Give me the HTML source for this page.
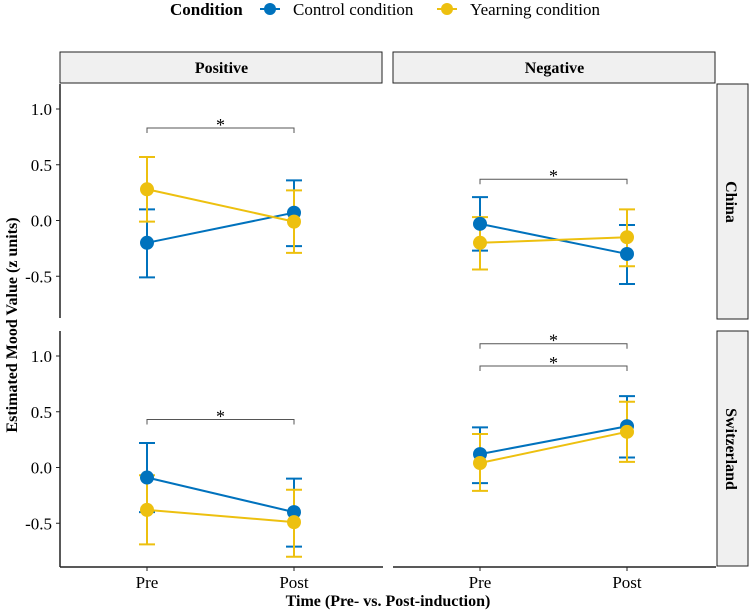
<!DOCTYPE html>
<html><head><meta charset="utf-8"><style>
body{margin:0;background:#fff;}
svg{display:block;font-family:"Liberation Serif",serif;}
</style></head><body>
<svg id="chart" width="750" height="613" viewBox="0 0 750 613" xmlns="http://www.w3.org/2000/svg">
<g>
<text x="170" y="15" font-size="17" font-weight="bold">Condition</text>
<g><line x1="260" y1="9" x2="280" y2="9" stroke="#0072BD" stroke-width="2"/><circle cx="270" cy="9" r="6" fill="#0072BD"/><text x="293" y="15" font-size="17">Control condition</text></g>
<g><line x1="437" y1="9" x2="457" y2="9" stroke="#EDC00F" stroke-width="2"/><circle cx="447" cy="9" r="6" fill="#EDC00F"/><text x="470" y="15" font-size="17">Yearning condition</text></g>
</g>
<text transform="translate(17,325) rotate(-90)" text-anchor="middle" font-size="16" font-weight="bold">Estimated Mood Value (z units)</text>
<text x="388" y="606" text-anchor="middle" font-size="16" font-weight="bold">Time (Pre- vs. Post-induction)</text>
<g id="plots"></g>
</svg>
<script>
const conditions = ["Control condition", "Yearning condition"];
const times = ["Pre", "Post"];
const facetCols = ["Positive", "Negative"];
const facetRows = ["China", "Switzerland"];
const yTicks = [1.0, 0.5, 0.0, -0.5];
const yTickLabels = ["1.0", "0.5", "0.0", "-0.5"];
// [row][col][condition][time]
const means = [
  [[[-0.20, 0.07], [0.28, -0.01]], [[-0.03, -0.30], [-0.20, -0.15]]],
  [[[-0.09, -0.40], [-0.38, -0.49]], [[0.12, 0.37], [0.04, 0.32]]]
];
const lowers = [
  [[[-0.51, -0.23], [-0.01, -0.29]], [[-0.27, -0.57], [-0.44, -0.41]]],
  [[[-0.40, -0.71], [-0.69, -0.80]], [[-0.14, 0.09], [-0.21, 0.05]]]
];
const uppers = [
  [[[0.10, 0.36], [0.57, 0.27]], [[0.21, -0.04], [0.03, 0.10]]],
  [[[0.22, -0.10], [-0.07, -0.20]], [[0.36, 0.64], [0.30, 0.59]]]
];
const brackets = [[[0.83], [0.37]], [[0.43], [1.11, 0.91]]];

const colors = ["#0072BD", "#EDC00F"];
const NS = "http://www.w3.org/2000/svg";
const g = document.getElementById("plots");
function mk(tag, attrs, parent) {
  const e = document.createElementNS(NS, tag);
  for (const k in attrs) e.setAttribute(k, attrs[k]);
  (parent || g).appendChild(e);
  return e;
}
const panelX = [60, 393], panelW = 323;
const panelY = [84, 331], panelH = 236;
const zeroOff = 136.5, pxPerUnit = 111.5;
function xScale(c, t) { return panelX[c] + (t === 0 ? 87 : 234); }
function yScale(r, v) { return panelY[r] + zeroOff - v * pxPerUnit; }

facetCols.forEach((name, c) => {
  const s = mk("rect", {x: panelX[c], y: 52, width: panelW - 1, height: 31, fill: "#f0f0f0", stroke: "#222", "stroke-width": 1});
  
  
  const t = mk("text", {x: panelX[c] + panelW / 2, y: 73, "text-anchor": "middle", "font-size": 16, "font-weight": "bold"});
  t.textContent = name;
  
  
});
facetRows.forEach((name, r) => {
  const s = mk("rect", {x: 717, y: panelY[r], width: 31, height: panelH - 1, fill: "#f0f0f0", stroke: "#222", "stroke-width": 1});
  
  
  const cy = panelY[r] + panelH / 2;
  const t = mk("text", {x: 0, y: 0, transform: `translate(726,${cy}) rotate(90)`, "text-anchor": "middle", "font-size": 16, "font-weight": "bold"});
  t.textContent = name;
  
  
});
// axes
facetRows.forEach((rn, r) => {
  const a = mk("line", {x1: 60, y1: panelY[r], x2: 60, y2: r === 1 ? 567 : panelY[r] + panelH - 2, stroke: "#222", "stroke-width": 1.5});
  
  
  yTicks.forEach((v, i) => {
    const y = yScale(r, v);
    mk("line", {x1: 56, y1: y, x2: 60, y2: y, stroke: "#222", "stroke-width": 1});
    const t = mk("text", {x: 52, y: y + 6, "text-anchor": "end", "font-size": 17});
    t.textContent = yTickLabels[i];
    
    
  });
});
facetCols.forEach((cn, c) => {
  const a = mk("line", {x1: panelX[c], y1: 567, x2: panelX[c] + panelW, y2: 567, stroke: "#222", "stroke-width": 1.5});
  
  
  times.forEach((tn, t) => {
    const x = xScale(c, t);
    mk("line", {x1: x, y1: 567, x2: x, y2: 571, stroke: "#222", "stroke-width": 1});
    const tx = mk("text", {x: x, y: 588, "text-anchor": "middle", "font-size": 17});
    tx.textContent = tn;
    
    
  });
});
// data
facetRows.forEach((rn, r) => {
  facetCols.forEach((cn, c) => {
    brackets[r][c].forEach(v => {
      const y = yScale(r, v), x1 = xScale(c, 0), x2 = xScale(c, 1);
      const b = mk("path", {d: `M${x1},${y + 5}V${y}H${x2}V${y + 5}`, fill: "none", stroke: "#555", "stroke-width": 1});
      
      
      const s = mk("text", {x: (x1 + x2) / 2, y: y + 3, "text-anchor": "middle", "font-size": 18});
      s.textContent = "*";
      
      
    });
    conditions.forEach((cond, k) => {
      const col = colors[k];
      times.forEach((tn, t) => {
        const x = xScale(c, t), yl = yScale(r, lowers[r][c][k][t]), yu = yScale(r, uppers[r][c][k][t]);
        const eb = mk("path", {d: `M${x - 8},${yu}H${x + 8}M${x},${yu}V${yl}M${x - 8},${yl}H${x + 8}`, stroke: col, "stroke-width": 2, fill: "none"});
        
        
      });
      const ln = mk("line", {x1: xScale(c, 0), y1: yScale(r, means[r][c][k][0]), x2: xScale(c, 1), y2: yScale(r, means[r][c][k][1]), stroke: col, "stroke-width": 2});
      
      
    });
    conditions.forEach((cond, k) => {
      times.forEach((tn, t) => {
        const p = mk("circle", {cx: xScale(c, t), cy: yScale(r, means[r][c][k][t]), r: 7, fill: colors[k]});
        
        
      });
    });
  });
});
</script>
</body></html>
